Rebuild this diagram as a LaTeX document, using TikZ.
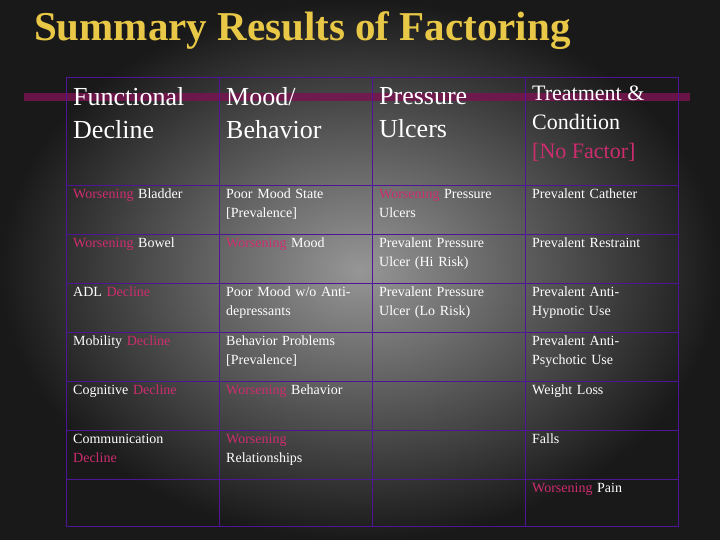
\documentclass[tikz,border=0pt]{standalone}
\usepackage{fontspec}
\setmainfont{Liberation Serif}
\definecolor{pk}{RGB}{205,45,110}
\definecolor{gold}{RGB}{232,200,70}
\definecolor{grid}{RGB}{80,20,150}
\definecolor{bar}{RGB}{120,20,80}
\begin{document}
\begin{tikzpicture}[x=1pt,y=-1pt,
  cell/.style={anchor=north west,align=left,text=white,inner sep=0pt,font=\fontsize{14}{19}\selectfont,text width=146pt},
  head/.style={anchor=north west,align=left,text=white,inner sep=0pt,font=\fontsize{26}{33}\selectfont,text width=148pt}]
\shade[inner color={rgb,255:red,150;green,150;blue,150},outer color={rgb,255:red,25;green,25;blue,25}] (0,0) rectangle (720,540);
\useasboundingbox (0,0) rectangle (720,540);
\node (title) [anchor=west,text=gold,font=\bfseries\fontsize{41}{44}\selectfont,inner sep=0pt] at (34,31) {Summary Results of Factoring};
\fill[bar,opacity=0.85] (24,93) rectangle (690,101);
\draw[grid,line width=1pt] (66,78) rectangle (678,526);
\foreach \x in {219,372,525} \draw[grid,line width=0.8pt] (\x,78) -- (\x,526);
\foreach \y in {185,234,283,332,381,430,479} \draw[grid,line width=0.8pt] (66,\y) -- (678,\y);
\node (h1) [head] at (73,87) {Functional\\Decline};
\node (h2) [head] at (226,87) {Mood/\\Behavior};
\node (h3) [head] at (379,87) {Pressure\\Ulcers};
\node (h4) [anchor=north west,align=left,text=white,inner sep=0pt,font=\fontsize{22}{29}\selectfont] at (532,86) {Treatment \&\\Condition\\\textcolor{pk}{[No Factor]}};
% rows
\node (a1) [cell] at (73,189) {\textcolor{pk}{Worsening} Bladder};
\node (b1) [cell] at (226,189) {Poor Mood State\\{}[Prevalence]};
\node (c1) [cell] at (379,189) {\textcolor{pk}{Worsening} Pressure\\Ulcers};
\node (d1) [cell] at (532,189) {Prevalent Catheter};
\node (a2) [cell] at (73,238) {\textcolor{pk}{Worsening} Bowel};
\node (b2) [cell] at (226,238) {\textcolor{pk}{Worsening} Mood};
\node (c2) [cell] at (379,238) {Prevalent Pressure\\Ulcer (Hi Risk)};
\node (d2) [cell] at (532,238) {Prevalent Restraint};
\node (a3) [cell] at (73,287) {ADL \textcolor{pk}{Decline}};
\node (b3) [cell] at (226,287) {Poor Mood w/o Anti-\\depressants};
\node (c3) [cell] at (379,287) {Prevalent Pressure\\Ulcer (Lo Risk)};
\node (d3) [cell] at (532,287) {Prevalent Anti-\\Hypnotic Use};
\node (a4) [cell] at (73,336) {Mobility \textcolor{pk}{Decline}};
\node (b4) [cell] at (226,336) {Behavior Problems\\{}[Prevalence]};
\node (d4) [cell] at (532,336) {Prevalent Anti-\\Psychotic Use};
\node (a5) [cell] at (73,385) {Cognitive \textcolor{pk}{Decline}};
\node (b5) [cell] at (226,385) {\textcolor{pk}{Worsening} Behavior};
\node (d5) [cell] at (532,385) {Weight Loss};
\node (a6) [cell] at (73,434) {Communication\\\textcolor{pk}{Decline}};
\node (b6) [cell] at (226,434) {\textcolor{pk}{Worsening}\\Relationships};
\node (d6) [cell] at (532,434) {Falls};
\node (d7) [cell] at (532,483) {\textcolor{pk}{Worsening} Pain};
\end{tikzpicture}
\end{document}
